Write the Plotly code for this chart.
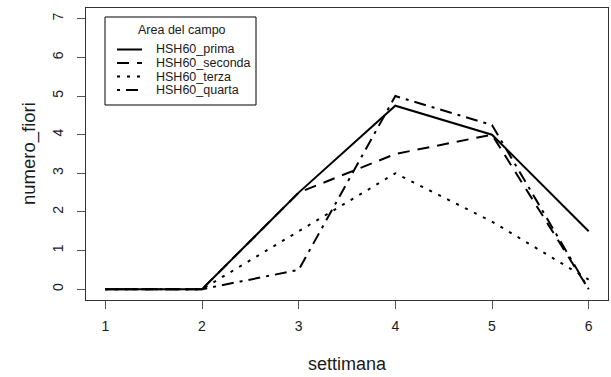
import plotly.graph_objects as go

# Weekly flower counts per field area
settimana = [1, 2, 3, 4, 5, 6]
serie_nomi = ["HSH60_prima", "HSH60_seconda", "HSH60_terza", "HSH60_quarta"]
hsh60_prima = [0, 0, 2.5, 4.75, 4, 1.5]
hsh60_seconda = [0, 0, 2.5, 3.5, 4, 0]
hsh60_terza = [0, 0, 1.5, 3, 1.75, 0.25]
hsh60_quarta = [0, 0, 0.5, 5, 4.25, 0]
x_ticks = [1, 2, 3, 4, 5, 6]
y_ticks = [0, 1, 2, 3, 4, 5, 6, 7]

valori = [hsh60_prima, hsh60_seconda, hsh60_terza, hsh60_quarta]
tratti = ["solid", "12px,8px", "3px,7px", "3px,6px,12px,6px"]

W, H = 611, 377
L, R, T, B = 86, 3, 8, 77
PW, PH = W - L - R, H - T - B
FONT = "Arial, Liberation Sans, sans-serif"
INK = "#1a1a1a"


def px_x(px):
    return (px - L) / PW


def px_y(py):
    return (T + PH - py) / PH


fig = go.Figure()
for nome, y, d in zip(serie_nomi, valori, tratti):
    fig.add_trace(go.Scatter(
        x=settimana, y=y, mode="lines", name=nome,
        line=dict(color="black", width=2, dash=d),
        showlegend=False,
    ))

axis_common = dict(
    showgrid=False, zeroline=False, showline=True, mirror=True,
    linecolor="#333333", linewidth=1,
    ticks="outside", ticklen=8, tickcolor="#555555", tickwidth=1,
    tickfont=dict(family=FONT, size=14, color=INK),
)

fig.update_xaxes(range=[0.8, 6.2], tickvals=x_ticks, ticklabelstandoff=5,
                 **axis_common)
fig.update_yaxes(range=[-0.28, 7.28], tickvals=y_ticks, tickangle=-90,
                 ticklabelstandoff=8, **axis_common)

# axis titles
fig.add_annotation(text="settimana", xref="paper", yref="paper", x=0.5, y=0,
                   yshift=-(364 - (T + PH)), showarrow=False,
                   font=dict(family=FONT, size=18, color=INK),
                   xanchor="center", yanchor="middle")
fig.add_annotation(text="numero_fiori", xref="paper", yref="paper", x=0, y=0.5,
                   xshift=29 - L, showarrow=False, textangle=-90,
                   font=dict(family=FONT, size=18.5, color=INK),
                   xanchor="center", yanchor="middle")

# legend box
fig.add_shape(type="rect", xref="paper", yref="paper",
              x0=px_x(105), x1=px_x(256), y0=px_y(105), y1=px_y(17),
              line=dict(color="black", width=1), fillcolor="white", layer="above")
fig.add_annotation(text="Area del campo", xref="paper", yref="paper",
                   x=px_x(182), y=px_y(30), showarrow=False, borderpad=0,
                   font=dict(family=FONT, size=12.5, color=INK),
                   xanchor="center", yanchor="middle")
for i, (nome, d) in enumerate(zip(serie_nomi, tratti)):
    yy = 49.5 + i * 13.5
    fig.add_shape(type="line", xref="paper", yref="paper",
                  x0=px_x(117), x1=px_x(142), y0=px_y(yy), y1=px_y(yy),
                  line=dict(color="black", width=2, dash=d), layer="above")
    fig.add_annotation(text=nome, xref="paper", yref="paper",
                       x=px_x(155), y=px_y(yy), showarrow=False, borderpad=0,
                       font=dict(family=FONT, size=12.5, color=INK),
                       xanchor="left", yanchor="middle")

fig.update_layout(
    width=W, height=H,
    margin=dict(l=L, r=R, t=T, b=B),
    paper_bgcolor="white", plot_bgcolor="white",
    showlegend=False,
)

fig.write_html("out.html")
